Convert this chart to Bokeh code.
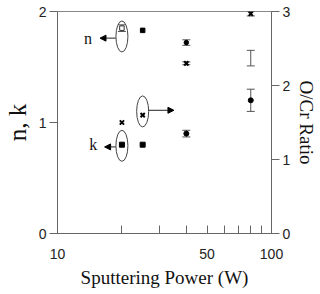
from bokeh.plotting import figure
from bokeh.models import (ColumnDataSource, Range1d, LinearAxis, FixedTicker, Whisker, TeeHead,
                          Arrow, NormalHead, Label, Ellipse)
from bokeh.embed import file_html
from bokeh.resources import INLINE

power = [20, 25, 40, 80]
n_vals = [1.85, 1.83, 1.72, 1.58]
n_err = [0.03, 0.0, 0.025, 0.07]
k_vals = [0.80, 0.80, 0.90, 1.20]
k_err = [0.0, 0.0, 0.03, 0.10]
ocr_vals = [1.50, 1.60, 2.30, 2.97]
ocr_err = [0.0, 0.0, 0.02, 0.03]
markers = ["square", "square", "circle", "circle"]
n_fill = ["white", "black", "black", None]
x_ticks = [10, 50, 100]
x_minor = [20, 30, 40, 60, 70, 80, 90]

p = figure(width=320, height=294, x_axis_type="log", output_backend="svg", toolbar_location=None,
           x_range=Range1d(10, 100), y_range=Range1d(0, 2), y_axis_location="left")
p.min_border_left = 52
p.min_border_right = 47
p.min_border_top = 11
p.min_border_bottom = 61
p.grid.visible = False
p.outline_line_color = "#888888"
p.background_fill_color = "white"
p.border_fill_color = "white"

p.extra_y_ranges = {"ocr": Range1d(0, 3)}
rax = LinearAxis(y_range_name="ocr", axis_label="O/Cr Ratio", ticker=FixedTicker(ticks=[0, 1, 2, 3]))
p.add_layout(rax, "right")

xa = p.xaxis[0]
xa.ticker = FixedTicker(ticks=x_ticks, minor_ticks=x_minor)
xa.axis_label = "Sputtering Power (W)"
xa.major_tick_in = 8
xa.major_tick_out = 0
xa.minor_tick_in = 8
xa.minor_tick_out = 0
xa.major_label_standoff = 15
xa.axis_label_standoff = 5

ya = p.yaxis[0]
ya.ticker = FixedTicker(ticks=[0, 1, 2])
ya.axis_label = "n, k"

for ax in (ya, rax):
    ax.major_tick_in = 0
    ax.major_tick_out = 8
    ax.minor_tick_line_color = None
    ax.major_label_standoff = 3

for ax in (xa, ya, rax):
    ax.axis_line_color = "#666666"
    ax.major_tick_line_color = "#666666"
    ax.minor_tick_line_color = "#666666" if ax is xa else None
    ax.major_label_text_font = "Liberation Sans"
    ax.major_label_text_font_size = "14px"
    ax.major_label_text_color = "#222222"
    ax.axis_label_text_font = "Liberation Serif"
    ax.axis_label_text_font_style = "normal"
    ax.axis_label_text_color = "#111111"
xa.axis_label_text_font_size = "19px"
ya.axis_label_text_font_size = "25px"
rax.axis_label_text_font_size = "19px"
ya.axis_label_standoff = 5
rax.axis_label_standoff = 3


def whiskers(xs, ys, es, range_name="default"):
    sel = [i for i in range(len(xs)) if es[i] > 0]
    src = ColumnDataSource(dict(x=[xs[i] for i in sel],
                                lo=[ys[i] - es[i] for i in sel],
                                hi=[ys[i] + es[i] for i in sel]))
    w = Whisker(source=src, base="x", lower="lo", upper="hi", line_color="#555555", line_width=1,
                upper_head=TeeHead(size=8, line_color="#555555"),
                lower_head=TeeHead(size=8, line_color="#555555"))
    w.y_range_name = range_name
    p.add_layout(w)


whiskers(power, n_vals, n_err)
whiskers(power, k_vals, k_err)
whiskers(power, ocr_vals, ocr_err, "ocr")

n_line = ["#333333", "black", "black", None]
src_n = ColumnDataSource(dict(x=power, y=n_vals, m=markers, f=n_fill, l=n_line))
p.scatter("x", "y", source=src_n, marker="m", fill_color="f", line_color="l", size=4.5)
src_k = ColumnDataSource(dict(x=power, y=k_vals, m=markers))
p.scatter("x", "y", source=src_k, marker="m", fill_color="black", line_color="black", size=5)
src_o = ColumnDataSource(dict(x=power, y=ocr_vals))
p.scatter("x", "y", source=src_o, marker="x", line_color="black", line_width=2, size=6,
          y_range_name="ocr")

# annotation ellipses & arrows
ell_src = ColumnDataSource(dict(x=[20, 20, 25], y=[1.775, 0.79, 1.10]))
p.add_glyph(ell_src, Ellipse(x="x", y="y", width=12, height=31, width_units="screen",
                             height_units="screen", fill_color=None, line_color="#444444", line_width=1))

for xs, ys, xe, ye in [(18.7, 1.76, 15.8, 1.76), (18.7, 0.78, 16.6, 0.78), (26.6, 1.11, 35.0, 1.11)]:
    p.add_layout(Arrow(end=NormalHead(size=6, fill_color="black", line_color="black"),
                       x_start=xs, y_start=ys, x_end=xe, y_end=ye, line_color="#222222", line_width=1))

p.add_layout(Label(x=13.9, y=1.76, text="n", text_font="Liberation Serif", text_font_size="16px",
                   text_align="center", text_baseline="middle", text_color="#111111"))
p.add_layout(Label(x=14.7, y=0.80, text="k", text_font="Liberation Serif", text_font_size="16px",
                   text_align="center", text_baseline="middle", text_color="#111111"))

open("out.html", "w").write(file_html(p, INLINE))
